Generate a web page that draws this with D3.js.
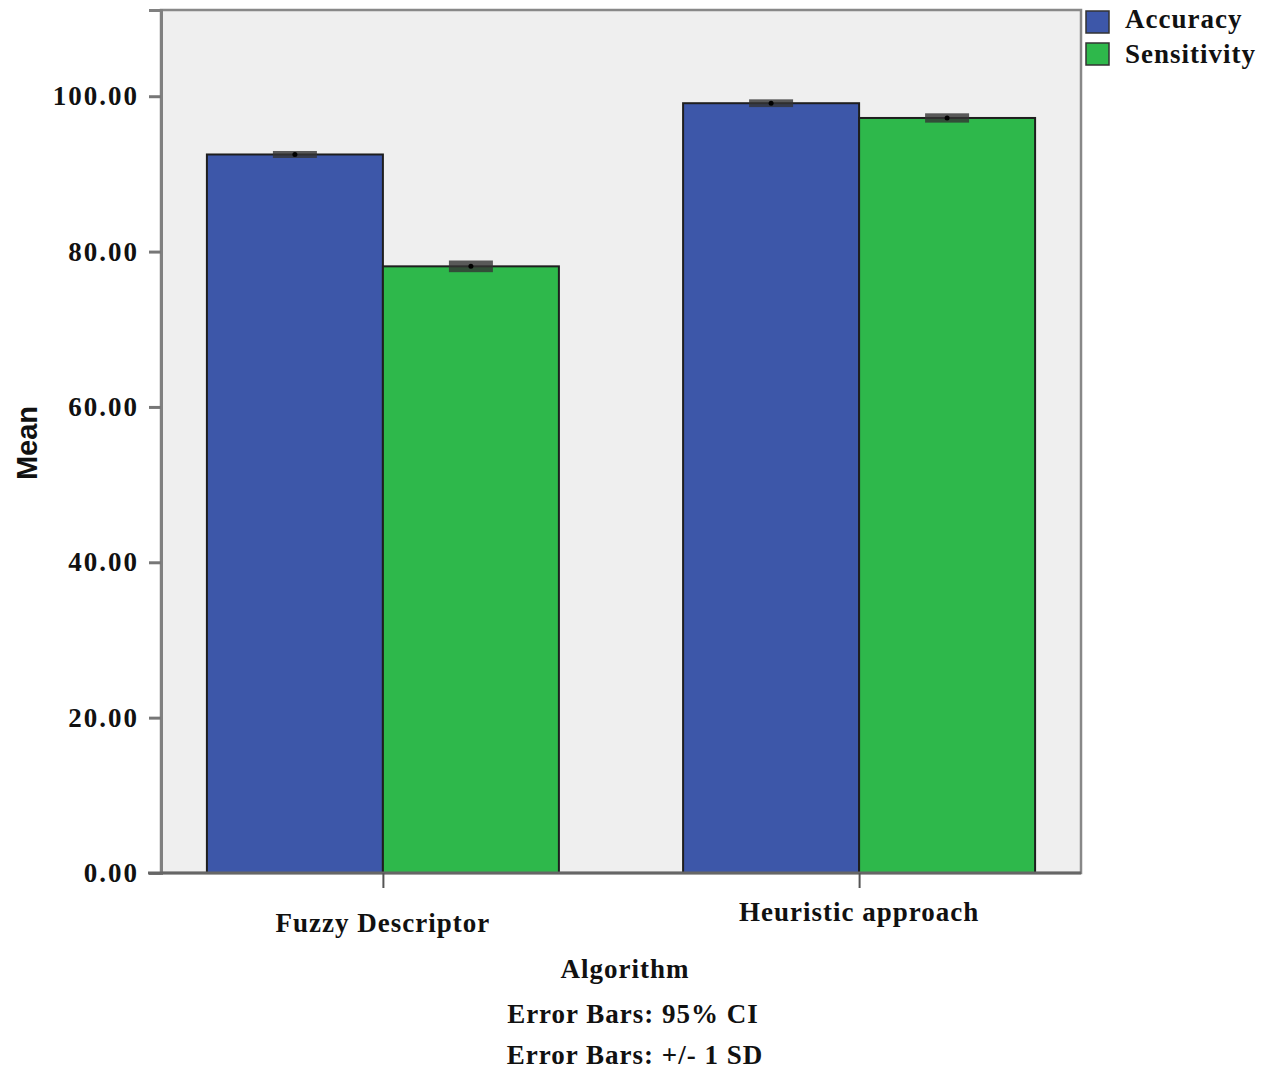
<!DOCTYPE html>
<html>
<head>
<meta charset="utf-8">
<script src="https://cdn.jsdelivr.net/npm/d3@7"></script>
<style>
  body { margin: 0; background: #fff; }
  text { font-family: "Liberation Serif", serif; font-weight: bold; fill: #111; }
</style>
</head>
<body>
<div class="graph"></div>
<script>
// data
const categories = ["Fuzzy Descriptor", "Heuristic approach"];
const series = ["Accuracy", "Sensitivity"];
const accuracy = [92.5, 99.1];
const sensitivity = [78.1, 97.2];
const accuracyErr = [0.45, 0.5];
const sensitivityErr = [0.75, 0.6];
const yTicks = [0, 20, 40, 60, 80, 100];
const notes = ["Algorithm", "Error Bars: 95% CI", "Error Bars: +/- 1 SD"];

const COLORS = {Accuracy: "#3d57a9", Sensitivity: "#2eb84b"};

// plot frame
const PLOT = {LEFT: 161, RIGHT: 1081, TOP: 10, BOTTOM: 873};

const svg = d3.select(".graph").append("svg")
    .attr("width", 1277)
    .attr("height", 1075);

// scales
const y = d3.scaleLinear()
    .domain([0, 111.1])
    .range([PLOT.BOTTOM, PLOT.TOP]);

const x = d3.scalePoint()
    .domain(categories)
    .range([PLOT.LEFT, PLOT.RIGHT])
    .padding(0.466);

const xSub = d3.scaleBand()
    .domain(series)
    .range([-176, 176]);

// background
svg.append("rect")
    .attr("x", PLOT.LEFT)
    .attr("y", PLOT.TOP)
    .attr("width", PLOT.RIGHT - PLOT.LEFT)
    .attr("height", PLOT.BOTTOM - PLOT.TOP)
    .attr("fill", "#efefef")
    .attr("stroke", "#888")
    .attr("stroke-width", 2.5);

// build rows from the arrays
const rows = [];
categories.forEach((c, i) => {
    rows.push({cat: c, key: "Accuracy", value: accuracy[i], err: accuracyErr[i]});
    rows.push({cat: c, key: "Sensitivity", value: sensitivity[i], err: sensitivityErr[i]});
});

// bars
svg.append("g").selectAll("rect")
    .data(rows)
    .enter()
    .append("rect")
        .attr("x", d => x(d.cat) + xSub(d.key))
        .attr("y", d => y(d.value))
        .attr("width", xSub.bandwidth())
        .attr("height", d => y(0) - y(d.value))
        .attr("fill", d => COLORS[d.key])
        .attr("stroke", "#1e1e1e")
        .attr("stroke-width", 2);

// error bars (very short, show as dark bands)
const eb = svg.append("g");
eb.selectAll("rect")
    .data(rows)
    .enter()
    .append("rect")
        .attr("x", d => x(d.cat) + xSub(d.key) + xSub.bandwidth() / 2 - 22)
        .attr("y", d => y(d.value + d.err))
        .attr("width", 44)
        .attr("height", d => y(d.value - d.err) - y(d.value + d.err))
        .attr("fill", "#333")
        .attr("opacity", 0.8);
eb.selectAll("circle")
    .data(rows)
    .enter()
    .append("circle")
        .attr("cx", d => x(d.cat) + xSub(d.key) + xSub.bandwidth() / 2)
        .attr("cy", d => y(d.value))
        .attr("r", 2.5)
        .attr("fill", "#000");

// y axis
const yAxis = svg.append("g")
    .attr("transform", `translate(${PLOT.LEFT},0)`)
    .call(d3.axisLeft(y).tickValues(yTicks).tickFormat(d3.format(".2f")).tickSize(12).tickPadding(10));
yAxis.select(".domain").attr("stroke", "#808080").attr("stroke-width", 3);
yAxis.selectAll(".tick line").attr("stroke", "#777").attr("stroke-width", 3);
yAxis.selectAll(".tick text")
    .attr("font-family", "Liberation Serif, serif")
    .attr("font-weight", "bold")
    .attr("font-size", 27)
    .attr("letter-spacing", 2)
    .attr("fill", "#111");

// x axis
const xAxis = svg.append("g")
    .attr("transform", `translate(0,${PLOT.BOTTOM})`)
    .call(d3.axisBottom(x).tickSize(15).tickFormat(""));
xAxis.select(".domain").attr("stroke", "#666").attr("stroke-width", 3)
    .attr("d", `M${PLOT.LEFT - 13},0H${PLOT.RIGHT}`);
xAxis.selectAll(".tick line").attr("stroke", "#555").attr("stroke-width", 2);

// category labels (the two sit at slightly different heights in the original)
const catY = [932, 921];
svg.append("g").selectAll("text")
    .data(categories)
    .enter()
    .append("text")
        .attr("x", d => x(d))
        .attr("y", (d, i) => catY[i])
        .attr("text-anchor", "middle")
        .attr("font-size", 27)
        .attr("letter-spacing", 1)
        .text(d => d);

// axis title
svg.append("text")
    .attr("transform", "translate(37,443) rotate(-90)")
    .attr("text-anchor", "middle")
    .style("font-family", "'Liberation Sans', Arial, sans-serif")
    .attr("font-size", 29)
    .attr("fill", "#222")
    .text("Mean");

// notes under the chart
const noteY = [978, 1023, 1064];
const noteX = [625, 633, 635];
svg.append("g").selectAll("text")
    .data(notes)
    .enter()
    .append("text")
        .attr("x", (d, i) => noteX[i])
        .attr("y", (d, i) => noteY[i])
        .attr("text-anchor", "middle")
        .attr("font-size", 27)
        .attr("letter-spacing", 1)
        .text(d => d);

// legend
const legend = svg.append("g").selectAll("g")
    .data(series)
    .enter()
    .append("g")
        .attr("transform", (d, i) => `translate(1086,${11 + i * 32})`);
legend.append("rect")
    .attr("width", 23)
    .attr("height", 22)
    .attr("fill", d => COLORS[d])
    .attr("stroke", "#333")
    .attr("stroke-width", 1.5);
legend.append("text")
    .attr("x", 39)
    .attr("y", (d, i) => 17 + i * 3)
    .attr("font-size", 27)
    .attr("letter-spacing", 1)
    .text(d => d);
</script>
</body>
</html>
